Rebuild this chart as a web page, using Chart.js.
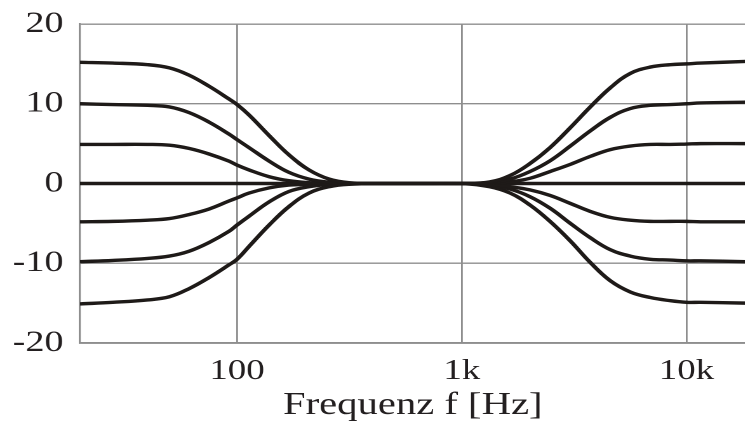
<!DOCTYPE html>
<html>
<head>
<meta charset="utf-8">
<script src="https://cdn.jsdelivr.net/npm/chart.js@4.4.1/dist/chart.umd.min.js"></script>
<style>
  html, body { margin: 0; padding: 0; background: #fff; overflow: hidden; }
  #wrap { width: 745px; height: 428px; position: relative; overflow: hidden; }
  /* the reference picture is stretched sideways, so the canvas is too */
  #eq { position: absolute; left: 0; top: 0; transform: scaleX(1.27); transform-origin: 0 0; }
</style>
</head>
<body>
<div id="wrap"><canvas id="eq" width="587" height="428"></canvas></div>
<script>
// frequency points in Hz
const freqs = [20, 28, 40, 50, 61, 75, 92, 100, 113, 139, 170, 209, 257, 315, 450, 700, 1000,
               1330, 1640, 2010, 2470, 3040, 3730, 4580, 5620, 6900, 8480, 10000, 11550, 18300];

// gain in dB for each shelving setting (bass + treble)
const boost15 = [15.2, 15.1, 14.9, 14.5, 13.6, 12.2, 10.6, 9.9, 8.6, 6.0, 3.6, 1.7, 0.55, 0.1, 0, 0, 0,
                 0.2, 1.0, 2.5, 4.5, 7.0, 9.6, 12.0, 13.8, 14.6, 14.9, 15.0, 15.1, 15.3];
const boost10 = [10.0, 9.9, 9.8, 9.6, 8.9, 7.7, 6.2, 5.5, 4.5, 2.8, 1.4, 0.55, 0.15, 0, 0, 0, 0,
                 0.1, 0.55, 1.5, 2.85, 4.7, 6.6, 8.3, 9.4, 9.8, 9.9, 10.0, 10.1, 10.2];
const boost5  = [4.9, 4.9, 4.9, 4.8, 4.4, 3.7, 2.8, 2.3, 1.7, 0.85, 0.35, 0.1, 0, 0, 0, 0, 0,
                 0, 0.2, 0.65, 1.5, 2.4, 3.4, 4.25, 4.7, 4.9, 4.9, 4.95, 5.0, 5.0];
const flat    = [0, 0, 0, 0, 0, 0, 0, 0, 0, 0, 0, 0, 0, 0, 0, 0, 0,
                 0, 0, 0, 0, 0, 0, 0, 0, 0, 0, 0, 0, 0];
const cut5    = [-4.8, -4.75, -4.6, -4.4, -3.9, -3.2, -2.2, -1.8, -1.2, -0.55, -0.2, -0.1, 0, 0, 0, 0, 0,
                 -0.1, -0.4, -0.8, -1.5, -2.5, -3.5, -4.25, -4.6, -4.75, -4.75, -4.75, -4.8, -4.8];
const cut10   = [-9.8, -9.65, -9.4, -9.1, -8.5, -7.4, -6.0, -5.2, -4.1, -2.3, -1.0, -0.4, -0.1, 0, 0, 0, 0,
                 -0.2, -0.7, -1.65, -3.1, -5.0, -6.8, -8.3, -9.1, -9.5, -9.6, -9.7, -9.7, -9.8];
const cut15   = [-15.1, -14.9, -14.6, -14.2, -13.2, -11.8, -10.2, -9.5, -7.9, -5.2, -2.9, -1.2, -0.4, -0.1, 0, 0, 0,
                 -0.4, -1.2, -2.7, -4.75, -7.2, -9.9, -12.2, -13.6, -14.3, -14.7, -14.9, -14.9, -15.0];

const tickValues = [100, 1000, 10000];
const tickLabels = ['100', '1k', '10k'];
const xTitle = 'Frequenz f [Hz]';

const serif = '"Liberation Serif", "Times New Roman", serif';
const ink = '#231f20';
const gridColor = '#8e8e8e';

var makeSet = function (values) {
    return {
        data: freqs.map((f, i) => ({ x: f, y: values[i] })),
        borderColor: '#1e1a18',
        borderWidth: 3.4,
        borderJoinStyle: 'round',
        pointRadius: 0,
        fill: false,
        tension: 0.4
    };
};

const ctx = document.getElementById('eq').getContext('2d');
const eqChart = new Chart(ctx, {
    type: 'line',
    data: {
        datasets: [boost15, boost10, boost5, flat, cut5, cut10, cut15].map(makeSet)
    },
    options: {
        responsive: false,
        animation: false,
        devicePixelRatio: 2,
        layout: { padding: { top: 24, right: 0, bottom: 0, left: 0 } },
        plugins: {
            legend: { display: false },
            tooltip: { enabled: false }
        },
        scales: {
            x: {
                type: 'logarithmic',
                min: 20,
                max: 18300,
                afterBuildTicks: function (axis) {
                    axis.ticks = tickValues.map(v => ({ value: v }));
                },
                afterFit: function (scale) {
                    scale.height = 85;
                    scale.paddingLeft = 0;
                    scale.paddingRight = 0;
                },
                grid: { color: gridColor, lineWidth: 1.4, drawTicks: false },
                border: { display: true, color: gridColor, width: 1.6 },
                ticks: {
                    autoSkip: false,
                    maxRotation: 0,
                    padding: 11,
                    color: ink,
                    font: { family: serif, size: 29 },
                    callback: function (value) {
                        return tickLabels[tickValues.indexOf(value)];
                    }
                },
                title: {
                    display: true,
                    text: xTitle,
                    color: ink,
                    font: { family: serif, size: 32 },
                    padding: { top: 0, bottom: 3 }
                }
            },
            y: {
                min: -20,
                max: 20,
                afterFit: function (scale) {
                    scale.width = 63;
                    scale.paddingTop = 0;
                    scale.paddingBottom = 0;
                },
                grid: { color: gridColor, lineWidth: 1.4, drawTicks: false },
                border: { display: true, color: gridColor, width: 1.6 },
                ticks: {
                    stepSize: 10,
                    padding: 13,
                    color: ink,
                    font: { family: serif, size: 30 }
                }
            }
        }
    }
});
</script>
</body>
</html>
